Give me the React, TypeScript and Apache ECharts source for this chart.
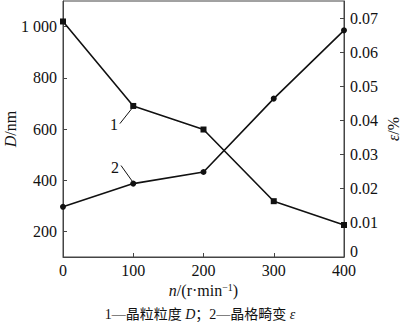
import React, { useEffect, useRef } from "react";
import * as echarts from "echarts";

const speeds = [0, 100, 200, 300, 400];
const grainSize = [1020, 690, 598, 318, 225];
const latticeStrain = [0.0147, 0.0215, 0.0249, 0.0464, 0.0664];
const leftTicks = [200, 400, 600, 800, 1000];
const rightTicks = [0, 0.01, 0.02, 0.03, 0.04, 0.05, 0.06, 0.07];
const leader1 = [[81, 621], [98, 680]];
const leader2 = [[82.6, 0.0268], [99.6, 0.0219]];
const label1 = [72.6, 617];
const label2 = [74, 0.0262];

const FONT = '"Liberation Serif", "Times New Roman", "Noto Sans CJK SC", serif';

export default function App() {
  const ref = useRef<HTMLDivElement>(null);
  useEffect(() => {
    if (!ref.current) return;
    const chart = echarts.init(ref.current, undefined, { renderer: "svg" });
    const black = "#111";
    const leaderMark = (pts: number[][]) => ({
      silent: true,
      symbol: ["none", "none"],
      lineStyle: { color: black, width: 1, type: "solid" },
      label: { show: false },
      data: [[{ coord: pts[0] }, { coord: pts[1] }]],
    });
    const labelMark = (pt: number[], text: string) => ({
      silent: true,
      symbol: "circle",
      symbolSize: 0,
      label: { show: true, position: "inside", formatter: text, fontFamily: FONT, fontSize: 16, color: black },
      data: [{ coord: pt }],
    });
    chart.setOption({
      animation: false,
      backgroundColor: "#fff",
      textStyle: { fontFamily: FONT, color: black },
      grid: {
        left: 63,
        right: 56,
        top: 1,
        bottom: 68,
        show: true,
        borderColor: "#444",
        borderWidth: 1,
        containLabel: false,
        outerBoundsMode: "none",
      },
      title: {
        text: "1—晶粒粒度 {i|D}；2—晶格畸变 {i|ε}",
        left: "center",
        top: 302,
        textStyle: {
          fontFamily: FONT,
          fontSize: 14,
          fontWeight: "normal",
          color: black,
          rich: { i: { fontStyle: "italic", fontFamily: FONT, fontSize: 14, color: black } },
        },
      },
      xAxis: {
        type: "value",
        min: 0,
        max: 400,
        interval: 100,
        name: "{i|n}/(r·min{s|−1})",
        nameLocation: "middle",
        nameGap: 25,
        nameMoveOverlap: false,
        nameTextStyle: {
          fontFamily: FONT,
          fontSize: 16,
          color: black,
          rich: {
            i: { fontStyle: "italic", fontFamily: FONT, fontSize: 16, color: black },
            s: { fontFamily: FONT, fontSize: 10, color: black, verticalAlign: "top", padding: [0, 0, 8, 0] },
          },
        },
        axisLine: { lineStyle: { color: "#444", width: 1 } },
        axisTick: { show: true, inside: true, length: 4, lineStyle: { color: "#444" } },
        axisLabel: { fontFamily: FONT, fontSize: 16, color: black, margin: 5 },
        splitLine: { show: false },
      },
      yAxis: [
        {
          type: "value",
          min: 100,
          max: 1100,
          name: "{i|D}/nm",
          nameLocation: "middle",
          nameRotate: 90,
          nameGap: 45,
          nameMoveOverlap: false,
          nameTextStyle: {
            fontFamily: FONT,
            fontSize: 16,
            color: black,
            rich: { i: { fontStyle: "italic", fontFamily: FONT, fontSize: 16, color: black } },
          },
          axisLine: { show: true, lineStyle: { color: "#444", width: 1 } },
          axisTick: { show: true, inside: true, length: 4, customValues: leftTicks, lineStyle: { color: "#444" } },
          axisLabel: {
            fontFamily: FONT,
            fontSize: 16,
            color: black,
            margin: 6,
            customValues: leftTicks,
            formatter: (v: number) => (v >= 1000 ? "1 000" : String(v)),
          },
          splitLine: { show: false },
        },
        {
          type: "value",
          min: 0,
          max: 0.075,
          position: "right",
          name: "{i|ε}/%",
          nameLocation: "middle",
          nameRotate: 90,
          nameGap: 41,
          nameMoveOverlap: false,
          nameTextStyle: {
            fontFamily: FONT,
            fontSize: 16,
            color: black,
            rich: { i: { fontStyle: "italic", fontFamily: FONT, fontSize: 16, color: black } },
          },
          axisLine: { show: true, lineStyle: { color: "#444", width: 1 } },
          axisTick: { show: true, inside: true, length: 4, customValues: rightTicks, lineStyle: { color: "#444" } },
          axisLabel: {
            fontFamily: FONT,
            fontSize: 16,
            color: black,
            margin: 6,
            customValues: rightTicks,
            formatter: (v: number) => (v === 0 ? "{z|0}" : v.toFixed(2)),
            rich: { z: { fontFamily: FONT, fontSize: 16, color: black, padding: [0, 0, 12, 0] } },
          },
          splitLine: { show: false },
        },
      ],
      series: [
        {
          type: "line",
          yAxisIndex: 0,
          data: speeds.map((s, i) => [s, grainSize[i]]),
          symbol: "rect",
          symbolSize: 6,
          itemStyle: { color: black },
          lineStyle: { color: black, width: 1.6 },
          markLine: leaderMark(leader1),
          markPoint: labelMark(label1, "1"),
        },
        {
          type: "line",
          yAxisIndex: 1,
          data: speeds.map((s, i) => [s, latticeStrain[i]]),
          symbol: "circle",
          symbolSize: 6,
          itemStyle: { color: black },
          lineStyle: { color: black, width: 1.6 },
          markLine: leaderMark(leader2),
          markPoint: labelMark(label2, "2"),
        },
      ],
    });
    return () => chart.dispose();
  }, []);
  return (
    <div
      ref={ref}
      style={{ position: "fixed", left: 0, top: 0, width: 400, height: 325, background: "#fff" }}
    />
  );
}
